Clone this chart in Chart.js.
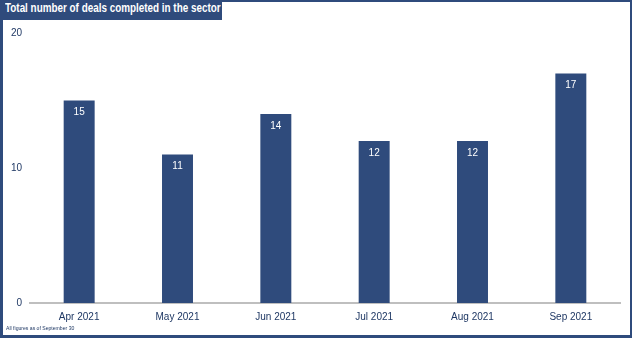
<!DOCTYPE html>
<html>
<head>
<meta charset="utf-8">
<script src="https://cdn.jsdelivr.net/npm/chart.js@4"></script>
<style>
    html, body { margin: 0; padding: 0; background: #fff; }
    #wrap {
        position: relative;
        width: 632px;
        height: 338px;
        box-sizing: border-box;
        border: 2px solid #2f4b7c;
        border-left-width: 3px;
        border-bottom-width: 3px;
        overflow: hidden;
    }
    #chartTitle {
        position: absolute;
        left: -3px;
        top: -2px;
        width: 222px;
        height: 20px;
        line-height: 20px;
        background: #2f4b7c;
        color: #fff;
        font: bold 13px "Liberation Sans", Arial, sans-serif;
        white-space: nowrap;
    }
    #chartTitle span {
        display: inline-block;
        margin-left: 5px;
        transform: scaleX(0.76);
        transform-origin: left center;
    }
    #footnote {
        position: absolute;
        left: 3px;
        top: 323px;
        color: #1f3864;
        font: 6px "Liberation Sans", Arial, sans-serif;
        white-space: nowrap;
        transform: scaleX(0.85);
        transform-origin: left center;
    }
    canvas { position: absolute; left: -3px; top: -2px; }
</style>
</head>
<body>
<div id="wrap">
    <canvas id="dealsChart" width="632" height="338"></canvas>
    <div id="chartTitle"><span>Total number of deals completed in the sector</span></div>
    <div id="footnote">All figures as of September 30</div>
</div>

<script>
// ======================================================
// DEALS PER MONTH — BAR CHART
// ======================================================

const months = ["Apr 2021", "May 2021", "Jun 2021", "Jul 2021", "Aug 2021", "Sep 2021"];
const deals = [15, 11, 14, 12, 12, 17];
const yTicks = [0, 10, 20];

const NAVY = "#2f4b7c";
const TEXT = "#1f3864";

// white value labels sitting inside the top of each bar
const barValues = {
    id: "barValues",
    afterDatasetsDraw(chart) {
        const ctx = chart.ctx;
        const meta = chart.getDatasetMeta(0);
        ctx.save();
        ctx.fillStyle = "#ffffff";
        ctx.font = "10px 'Liberation Sans', Arial, sans-serif";
        ctx.textAlign = "center";
        ctx.textBaseline = "middle";
        meta.data.forEach((bar, i) => {
            ctx.fillText(String(deals[i]), bar.x, bar.y + 12);
        });
        ctx.restore();
    }
};

function renderDealsChart() {
    const canvas = document.getElementById("dealsChart");
    if (!canvas) return;
    const ctx = canvas.getContext("2d");

    new Chart(ctx, {
        type: "bar",
        data: {
            labels: months,
            datasets: [{
                label: "Deals",
                data: deals,
                backgroundColor: NAVY,
                barPercentage: 0.63,
                categoryPercentage: 0.5
            }]
        },
        options: {
            responsive: false,
            animation: false,
            layout: { padding: { top: 33, right: 12, bottom: 0, left: 0 } },
            plugins: {
                legend: { display: false },
                tooltip: { enabled: false }
            },
            scales: {
                x: {
                    grid: { display: false, drawTicks: false },
                    border: { display: true, color: "#bfbfbf", width: 2 },
                    ticks: {
                        color: TEXT,
                        font: { family: "'Liberation Sans', Arial, sans-serif", size: 10 },
                        padding: 8,
                        maxRotation: 0
                    },
                    afterFit(scale) { scale.height = 35; }
                },
                y: {
                    min: 0,
                    max: 20,
                    afterBuildTicks(scale) { scale.ticks = yTicks.map(v => ({ value: v })); },
                    grid: { display: false, drawTicks: false },
                    border: { display: false },
                    ticks: {
                        color: TEXT,
                        font: { family: "'Liberation Sans', Arial, sans-serif", size: 10 },
                        padding: 8
                    },
                    afterFit(scale) { scale.width = 30; }
                }
            }
        },
        plugins: [barValues]
    });
}

renderDealsChart();
</script>
</body>
</html>
